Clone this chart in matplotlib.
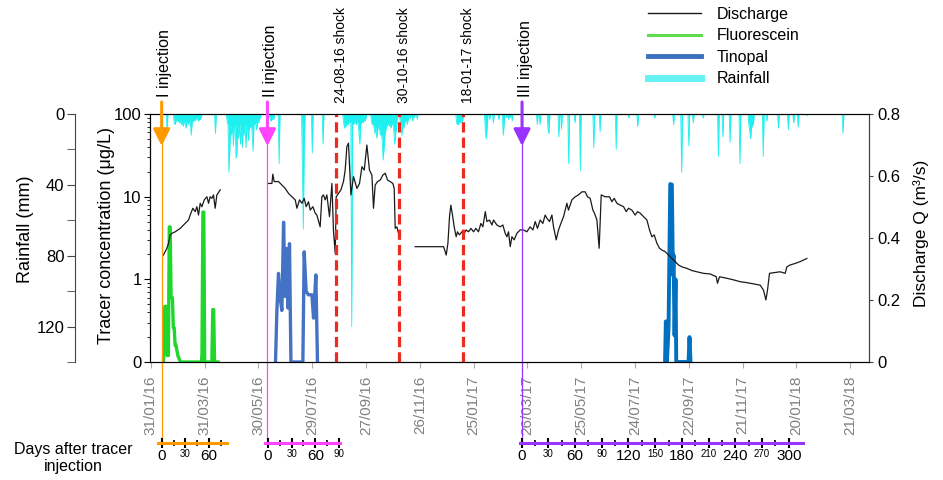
import matplotlib
matplotlib.use("Agg")
import matplotlib.pyplot as plt
import matplotlib.dates as mdates
import matplotlib.transforms as mtransforms
from matplotlib.lines import Line2D
from matplotlib.ticker import LogLocator, NullFormatter
import numpy as np
import pandas as pd

plt.rcParams['font.family'] = ['Liberation Sans', 'DejaVu Sans']

# ---------------- data (x values are days after 31/01/2016) ----------------
start = pd.Timestamp('2016-01-31')

# daily rainfall (mm); days not listed had no rain
rain_day = [18,
            26, 27, 28, 29, 30, 31, 32, 33, 34, 35, 36, 37, 38, 39, 40, 41, 42, 43, 44,
            45, 46, 47, 48, 49, 50, 51, 52, 53, 54, 55, 56, 72,
            85, 86, 87, 88, 89, 90, 91, 92, 93, 94, 95, 96, 97, 98, 99, 100, 101, 102,
            103, 104, 105, 106, 107, 108, 109, 110, 111, 112, 113, 114, 115, 116, 117,
            118, 119, 120, 121, 122,
            133, 134, 135, 136, 137, 143, 169, 170, 171, 180, 192,
            215, 216, 217, 218, 219, 220, 221, 222, 223, 224, 225, 226, 227, 228, 229,
            230, 231, 232, 233, 234, 235, 236, 237, 238, 239, 240,
            246, 247, 248, 249, 250, 251, 252, 253, 254, 255, 256, 257, 258, 259, 260,
            261, 262, 263, 264, 265, 266, 267, 268, 269, 270, 271, 272, 273, 274,
            278, 279, 280, 281, 282, 283, 284, 285, 286, 287, 289, 291, 292, 294, 297,
            341, 342, 343, 344, 345, 346, 347, 348,
            373, 374, 375, 378, 382, 388, 393, 394, 397, 399, 401, 403,
            431, 434, 443, 444, 455, 458, 466, 473, 479, 494, 501, 519, 533, 543, 562,
            583, 592, 600, 605, 616, 633, 638, 646, 657,
            667, 668, 669, 670, 671, 672, 683, 687, 700, 711, 717, 722, 732, 772]
rain_mm = [10,
           5, 6, 4, 3, 4, 4, 5, 3, 6, 4, 7, 5, 4, 8, 5, 4, 6, 4, 5,
           12, 5, 4, 3, 4, 3, 2, 3, 4, 3, 3, 2, 11,
           4, 6, 33, 20, 6, 12, 5, 18, 6, 7, 25, 22, 6, 14, 5, 17, 6, 19,
           7, 12, 5, 19, 6, 10, 15, 5, 8, 4, 12, 21, 5, 6, 4,
           9, 4, 5, 3, 2,
           3, 4, 3, 2.5, 3, 28, 30, 65, 20, 22, 17,
           5, 8, 6, 7, 5, 6, 4, 5, 4, 120, 5, 6, 4, 5, 6,
           4, 5, 10, 17, 6, 5, 4, 5, 3, 4, 2,
           4, 6, 5, 8, 11, 7, 13.6, 9, 6, 8, 12, 10, 15, 26, 20,
           12, 9, 7, 6, 5, 7, 6, 8, 5, 6, 10, 17, 11, 8,
           4, 7, 12, 6, 8, 5, 4, 3, 6, 3, 3, 2, 4, 2, 3,
           5, 6, 6, 4, 5, 3, 5, 3,
           9, 14, 8, 3, 5, 3, 12, 6, 2, 3, 2, 4,
           6, 6, 9, 11, 13, 8.5, 28, 5, 32, 19, 10, 20, 2.3, 7, 2.3,
           6, 33, 18, 5, 2.3, 24, 13, 16, 28,
           6, 10, 14, 8, 6, 6, 24, 4, 8, 9, 5, 7.5, 1, 11]

q1_day = [14, 17.8, 19.7, 21.5, 23.4, 27.1, 32.7, 36.4, 42, 43.8, 46.8, 49.4, 51.3,
          53.1, 55, 56.9, 59.5, 62.5, 64.3, 66.1, 68, 69.8, 71.7, 73.6, 77.3]
q1_val = [0.345, 0.367, 0.383, 0.41, 0.415, 0.42, 0.431, 0.442, 0.458, 0.474, 0.496,
          0.485, 0.501, 0.474, 0.512, 0.501, 0.523, 0.533, 0.512, 0.533, 0.528, 0.539,
          0.496, 0.539, 0.555]

q2_day = [131.2, 135, 136, 137.5, 142.3, 146.1, 149.8, 153.5, 157.3, 161, 162.9, 165.8,
          168.4, 171, 173.2, 175.8, 177.7, 180.7, 183.3, 185.1, 188.8, 190.7, 192.5,
          194.4, 196.3, 199.2, 201.9, 203.7, 205.6, 206.7, 209.3, 211.9, 214.8, 216.7,
          218.6, 220.4, 223.1, 226, 229.8, 232.7, 235.4, 238, 240.9, 243.8, 246.5,
          248.3, 250.2, 252.8, 255.8, 258.8, 261.4, 263.9, 266.9, 269.9, 271.4, 272.5,
          274.4, 276.2]
q2_val = [0.576, 0.576, 0.606, 0.582, 0.582, 0.571, 0.56, 0.544, 0.533, 0.523, 0.496,
          0.523, 0.512, 0.528, 0.501, 0.517, 0.49, 0.501, 0.48, 0.474, 0.436, 0.533,
          0.539, 0.523, 0.539, 0.469, 0.576, 0.42, 0.351, 0.533, 0.544, 0.555, 0.582,
          0.619, 0.695, 0.706, 0.539, 0.598, 0.56, 0.576, 0.63, 0.619, 0.7, 0.619,
          0.603, 0.496, 0.571, 0.582, 0.587, 0.603, 0.609, 0.587, 0.582, 0.576, 0.56,
          0.431, 0.436, 0.415]

q3_day = [294.8, 326.4, 328.3, 329.4, 331.3, 333.1, 334.6, 336.4, 338.3, 340.5, 342,
          344.2, 346.9, 349.5, 351.7, 354.3, 357, 359.9, 362.5, 365.4, 368.1, 370.3,
          373, 374.8, 377.7, 380.4, 382.2, 385.9, 389.6, 392.6, 395.2, 397.1, 398.9,
          400.8, 402.7, 405.2, 408.2, 411.9, 415.6, 419.4, 423, 426.1, 428.7, 431.2,
          434.2, 437.2, 439.8, 441.7, 444.6, 447.3, 449.1, 452.1, 454.7, 457.3, 460.3,
          464, 465.8, 469.6, 473.3, 476.9, 480.8, 484.4, 487, 490, 493, 494.8, 497.5,
          500, 502.3, 506.7, 511.6, 514.2, 516.8, 519.8, 523.5, 527.2, 530.2, 532.8,
          536.5, 540.2, 542.8, 545.8, 549.5, 553.3, 556.2, 558.8, 561.4, 564.4, 567.3,
          570, 573.7, 577.4, 581.1, 584.8, 588.5, 592.3, 597.9, 603.5, 609, 616.4,
          623.9, 630.6, 632, 634.3, 642.5, 649.9, 657.3, 664.8, 672.2, 679.6, 683.3,
          686, 687.8, 690, 694.5, 701.9, 707.5, 709.4, 713.1, 718.7, 724.3, 731.7]
q3_val = [0.372, 0.372, 0.356, 0.345, 0.383, 0.469, 0.506, 0.474, 0.436, 0.404, 0.42,
          0.41, 0.42, 0.415, 0.426, 0.42, 0.431, 0.42, 0.431, 0.42, 0.447, 0.436,
          0.485, 0.453, 0.458, 0.442, 0.458, 0.442, 0.436, 0.442, 0.415, 0.404, 0.42,
          0.372, 0.404, 0.394, 0.415, 0.426, 0.426, 0.42, 0.436, 0.426, 0.453, 0.431,
          0.458, 0.447, 0.474, 0.464, 0.453, 0.474, 0.436, 0.394, 0.426, 0.447, 0.469,
          0.512, 0.49, 0.523, 0.533, 0.539, 0.549, 0.549, 0.533, 0.528, 0.49, 0.48,
          0.458, 0.367, 0.539, 0.533, 0.533, 0.517, 0.528, 0.512, 0.506, 0.501, 0.485,
          0.496, 0.49, 0.474, 0.485, 0.48, 0.469, 0.458, 0.426, 0.404, 0.41, 0.383,
          0.367, 0.361, 0.356, 0.345, 0.334, 0.324, 0.313, 0.307, 0.302, 0.295, 0.291,
          0.286, 0.284, 0.275, 0.254, 0.275, 0.27, 0.265, 0.259, 0.256, 0.252, 0.248,
          0.232, 0.2, 0.232, 0.286, 0.288, 0.291, 0.286, 0.307, 0.313, 0.318, 0.324,
          0.334]

fluo_day = [14, 15.5, 17, 18, 19.5, 20.5, 21.5, 22.5, 24, 25, 26, 27, 28, 30, 33,
            56.5, 57, 58, 59, 60, 68, 69, 70, 71, 75]
fluo_val = [0.1, 0.47, 0.47, 0.12, 0.12, 4.3, 4.3, 0.6, 0.6, 0.26, 0.26, 0.16, 0.16,
            0.12, 0.1, 0.1, 0.13, 6.5, 6.5, 0.1, 0.1, 0.43, 0.43, 0.1, 0.1]

tino2_day = [139, 140.5, 142.3, 144.2, 146.1, 148, 149.8, 151.7, 152.8, 154.6, 156.2,
             169.5, 171, 173.2, 175.8, 179.6, 181.4, 184, 185.8]
tino2_val = [0.1, 0.41, 1.18, 0.59, 0.42, 4.9, 0.62, 2.36, 0.45, 2.7, 0.1,
             0.1, 2.15, 0.71, 0.65, 0.65, 0.34, 1.13, 0.1]

tino3_day = [573.5, 574.4, 575.6, 577.4, 579.3, 581.1, 582.3, 583, 584.1, 585.2, 586,
             599.7, 600.8, 601.9]
tino3_val = [0.1, 0.31, 0.1, 0.26, 14.2, 14, 1.13, 1.96, 0.21, 1.0, 0.1,
             0.1, 0.2, 0.1]

inj_dates = ['2016-02-12', '2016-06-09', '2017-03-20']
inj_labels = ['I injection', 'II injection', 'III injection']
inj_colors = ['#ff9900', '#ff44ff', '#9933ff']
# shock lines as drawn in the figure
shock_dates = ['2016-08-24', '2016-11-03', '2017-01-13']
shock_labels = ['24-08-16 shock', '30-10-16 shock', '18-01-17 shock']

date_ticks = pd.date_range('2016-01-31', periods=14, freq='60D')


def to_dates(d):
    return (start + pd.to_timedelta(np.asarray(d, dtype=float), unit='D')).to_numpy()


W, H = 943, 480
fig = plt.figure(figsize=(W / 100, H / 100), dpi=100)
ax = fig.add_axes([150 / W, 1 - 362 / H, (869 - 150) / W, (362 - 114) / H])
axr = ax.twinx()
axq = ax.twinx()

# ---------- rainfall (inverted, own left spine) ----------
rain = np.zeros(805)
rain[rain_day] = rain_mm
rd = to_dates(np.arange(805))
cyan = '#1ef0f0'
axr.fill_between(rd, 0, rain, color=cyan, lw=0)
axr.plot(rd, rain, color=cyan, lw=0.6)
axr.set_ylim(140, 0)
axr.yaxis.tick_left()
axr.yaxis.set_label_position('left')
axr.spines['left'].set_position(('outward', 54))
for s in ['top', 'bottom', 'right']:
    axr.spines[s].set_visible(False)
axr.spines['left'].set_color('#444444')
axr.set_yticks([0, 40, 80, 120])
axr.set_yticks([20, 60, 100, 140], minor=True)
axr.tick_params(axis='y', which='both', length=6, color='#444444', labelsize=12, pad=1.5)

# ---------- tracers (log) ----------
ax.plot(to_dates(fluo_day), fluo_val, color='#1ed62c', lw=2.4)
ax.plot(to_dates(tino2_day), tino2_val, color='#4472c4', lw=2.4)
ax.plot(to_dates(tino3_day), tino3_val, color='#0070c0', lw=2.8)
ax.set_yscale('log')
ax.set_ylim(0.1, 100)
ax.set_yticks([0.1, 1, 10, 100], ['0', '1', '10', '100'])
ax.yaxis.set_minor_locator(LogLocator(subs=np.arange(2, 10)))
ax.yaxis.set_minor_formatter(NullFormatter())
ax.tick_params(axis='y', which='major', length=4, labelsize=12, pad=2)
ax.tick_params(axis='y', which='minor', length=2.5)

# ---------- x axis ----------
ax.set_xlim(pd.Timestamp('2016-01-30'), pd.Timestamp('2018-04-11'))
ax.set_xticks(date_ticks)
ax.xaxis.set_major_formatter(mdates.DateFormatter('%d/%m/%y'))
ax.tick_params(axis='x', length=4, color='#aaaaaa', labelcolor='#808080',
               labelsize=11, labelrotation=90, pad=6)

# ---------- discharge ----------
for dd, vv in [(q1_day, q1_val), (q2_day, q2_val), (q3_day, q3_val)]:
    axq.plot(to_dates(dd), vv, color='#1a1a1a', lw=0.9)
axq.set_ylim(0, 0.8)
axq.set_yticks([0, 0.2, 0.4, 0.6, 0.8], ['0', '0.2', '0.4', '0.6', '0.8'])
axq.tick_params(axis='y', length=3, labelsize=12, pad=3, color='#444444')
axq.spines['right'].set_color('#444444')

# ---------- events ----------
blend = mtransforms.blended_transform_factory(axq.transData, fig.transFigure)
for d, lab, c in zip(inj_dates, inj_labels, inj_colors):
    x = mdates.date2num(pd.Timestamp(d))
    axq.plot([x, x], [1 - 140 / H, 1 - 442 / H], transform=blend, color=c, lw=0.9,
             clip_on=False)
    axq.annotate('', xy=(x, 1 - 146 / H), xytext=(x, 1 - 102 / H), xycoords=blend,
                 textcoords=blend, annotation_clip=False,
                 arrowprops=dict(arrowstyle='-|>,head_length=0.5,head_width=0.25',
                                 lw=2.2, color=c, mutation_scale=20,
                                 shrinkA=0, shrinkB=0))
    fig.text(x, 1 - 97 / H, lab, rotation=90, ha='center', va='bottom', fontsize=11.5,
             transform=mtransforms.offset_copy(blend, fig=fig, x=3, y=0, units='dots'))

for d, lab in zip(shock_dates, shock_labels):
    x = mdates.date2num(pd.Timestamp(d))
    axq.axvline(x, color='#ee2a1f', lw=2.3, ls=(0, (3.2, 1.6)))
    fig.text(x, 1 - 103 / H, lab, rotation=90, ha='center', va='bottom', fontsize=10,
             transform=mtransforms.offset_copy(blend, fig=fig, x=5, y=0, units='dots'))

# ---------- axis labels ----------
fig.text(25 / W, 1 - 229 / H, 'Rainfall (mm)', rotation=90, ha='center', va='center',
         fontsize=13)
fig.text(106.7 / W, 1 - 235.5 / H, 'Tracer concentration (μg/L)', rotation=90,
         ha='center', va='center', fontsize=13)
fig.text(921 / W, 1 - 233 / H, 'Discharge Q (m³/s)', rotation=90, ha='center',
         va='center', fontsize=12.5)
fig.text(73 / W, 1 - 458 / H, 'Days after tracer\ninjection', ha='center', va='center',
         fontsize=11.5, linespacing=1.1)


# ---------- days after injection axes ----------
def days_axis(x0, x1, d0, d1, color, last):
    a = fig.add_axes([x0 / W, 1 - 442.5 / H, (x1 - x0) / W, 0.0005])
    a.set_xlim(d0, d1)
    a.patch.set_visible(False)
    for s in ['top', 'left', 'right']:
        a.spines[s].set_visible(False)
    a.spines['bottom'].set_color(color)
    a.spines['bottom'].set_linewidth(2.2)
    a.set_yticks([])
    major = np.arange(0, last + 1, 30)
    a.set_xticks(major, [str(v) for v in major])
    for t, v in zip(a.get_xticklabels(), major):
        t.set_fontsize(11 if v % 60 == 0 else 7)
    a.set_xticks(np.arange(15, last + 1, 30), minor=True)
    a.tick_params(axis='x', which='major', direction='inout', length=7, width=1.5, pad=1)
    a.tick_params(axis='x', which='minor', direction='inout', length=4, width=1.2)


days_axis(157.7, 226.7, -5.1, 82.5, inj_colors[0], 75)
days_axis(265, 340, -3.4, 90.9, inj_colors[1], 90)
days_axis(520, 803.3, -1.9, 316.4, inj_colors[2], 300)

# ---------- legend ----------
handles = [Line2D([], [], color='#1a1a1a', lw=1),
           Line2D([], [], color='#5fdc4e', lw=2.2),
           Line2D([], [], color='#3a6fc0', lw=3.5),
           Line2D([], [], color='#66f2f2', lw=5)]
fig.legend(handles, ['Discharge', 'Fluorescein', 'Tinopal', 'Rainfall'], loc='upper left',
           bbox_to_anchor=(648 / W, 1 - 7 / H), frameon=False, fontsize=11.5,
           handlelength=3.3, handletextpad=1.0, labelspacing=0.4, borderpad=0,
           borderaxespad=0)

fig.savefig('out.png', dpi=100)
